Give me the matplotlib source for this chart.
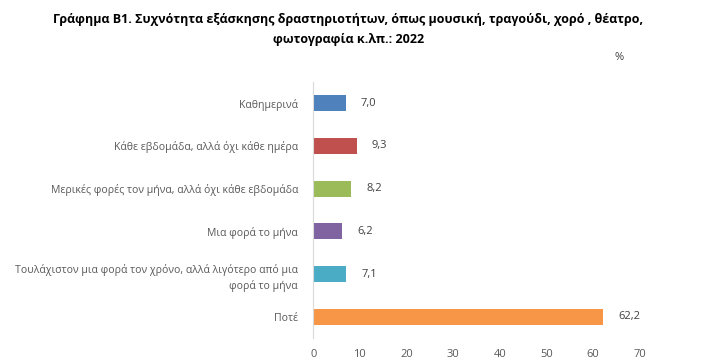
import numpy as np
from matplotlib import pyplot as plt

categories = [
    'Καθημερινά',
    'Κάθε εβδομάδα, αλλά όχι κάθε ημέρα',
    'Μερικές φορές τον μήνα, αλλά όχι κάθε εβδομάδα',
    'Μια φορά το μήνα',
    'Τουλάχιστον μια φορά τον χρόνο, αλλά λιγότερο από μια\nφορά το μήνα',
    'Ποτέ',
]
values = [7.0, 9.3, 8.2, 6.2, 7.1, 62.2]
colors = ['#4F81BD', '#C0504D', '#9BBB59', '#8064A2', '#4BACC6', '#F79646']
xticks = [0, 10, 20, 30, 40, 50, 60, 70]

plt.rcParams['font.family'] = ['Open Sans', 'DejaVu Sans']
gray = '#595959'

fig = plt.figure(figsize=(7.07, 3.64), dpi=100)
ax = fig.add_axes([0.443, 0.071, 0.462, 0.704])

y = np.arange(len(categories))
ax.barh(y, values, height=0.38, color=colors)
ax.set_ylim(len(categories) - 0.5, -0.5)
ax.set_xlim(0, 70)
ax.set_xticks(xticks)
ax.set_yticks(y)
ax.set_yticklabels(categories, fontsize=7.6, color=gray, linespacing=1.5)
ax.tick_params(axis='x', labelsize=8, colors=gray, length=0, pad=8)
ax.tick_params(axis='y', length=0, pad=11)
for s in ['top', 'right', 'bottom']:
    ax.spines[s].set_visible(False)
ax.spines['left'].set_color('#D9D9D9')

for yi, v in zip(y, values):
    ax.text(v + 3.2, yi, f'{v:.1f}'.replace('.', ','), va='center', ha='left',
            fontsize=8, color='#404040')

fig.text(0.493, 0.919, 'Γράφημα Β1. Συχνότητα εξάσκησης δραστηριοτήτων, όπως μουσική, τραγούδι, χορό , θέατρο,\nφωτογραφία κ.λπ.: 2022',
         ha='center', va='center', fontsize=9, fontweight='bold', linespacing=1.75)
fig.text(0.876, 0.843, '%', ha='center', va='center', fontsize=8, color='#404040')

fig.savefig('out.png', dpi=100)
